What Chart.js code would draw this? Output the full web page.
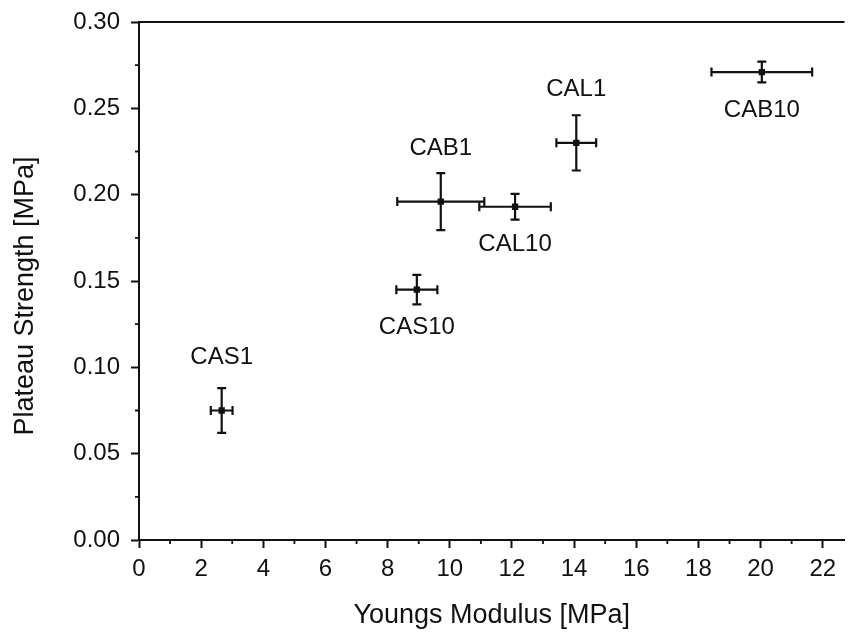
<!DOCTYPE html>
<html>
<head>
<meta charset="utf-8">
<script src="https://cdn.jsdelivr.net/npm/chart.js@4/dist/chart.umd.min.js"></script>
<style>
  html, body { margin: 0; padding: 0; background: #fff; }
  #wrap { width: 849px; height: 640px; position: relative; }
</style>
</head>
<body>
<div id="wrap"><canvas id="c" width="849" height="640"></canvas></div>
<script>
// ---- data ----
const sampleNames = ['CAS1', 'CAS10', 'CAB1', 'CAL10', 'CAL1', 'CAB10'];
const youngsModulus = [2.66, 8.94, 9.71, 12.1, 14.07, 20.04];
const youngsErr = [0.35, 0.66, 1.4, 1.15, 0.64, 1.62];
const plateauStrength = [0.075, 0.145, 0.196, 0.193, 0.230, 0.271];
const plateauErr = [0.013, 0.0085, 0.0165, 0.0075, 0.016, 0.006];
const labelSide = ['above', 'below', 'above', 'below', 'above', 'below'];
const xTickValues = [0, 2, 4, 6, 8, 10, 12, 14, 16, 18, 20, 22];
const xMinorValues = [1, 3, 5, 7, 9, 11, 13, 15, 17, 19, 21];
const yTickValues = [0.00, 0.05, 0.10, 0.15, 0.20, 0.25, 0.30];
const yMinorValues = [0.025, 0.075, 0.125, 0.175, 0.225, 0.275];

const INK = '#111';
const FONT = "'Liberation Sans', Arial, sans-serif";

const points = youngsModulus.map((x, i) => ({ x: x, y: plateauStrength[i] }));

const decorPlugin = {
  id: 'decor',
  afterDatasetsDraw(chart) {
    const ctx = chart.ctx;
    const xs = chart.scales.x, ys = chart.scales.y;
    const area = chart.chartArea;
    ctx.save();
    ctx.strokeStyle = INK;
    ctx.lineCap = 'butt';
    // error bars
    ctx.lineWidth = 2.2;
    const cap = 4.5;
    for (let i = 0; i < points.length; i++) {
      const px = xs.getPixelForValue(youngsModulus[i]);
      const py = ys.getPixelForValue(plateauStrength[i]);
      const xl = xs.getPixelForValue(youngsModulus[i] - youngsErr[i]);
      const xr = xs.getPixelForValue(youngsModulus[i] + youngsErr[i]);
      const yt = ys.getPixelForValue(plateauStrength[i] + plateauErr[i]);
      const yb = ys.getPixelForValue(plateauStrength[i] - plateauErr[i]);
      ctx.beginPath();
      ctx.moveTo(xl, py); ctx.lineTo(xr, py);
      ctx.moveTo(xl, py - cap); ctx.lineTo(xl, py + cap);
      ctx.moveTo(xr, py - cap); ctx.lineTo(xr, py + cap);
      ctx.moveTo(px, yt); ctx.lineTo(px, yb);
      ctx.moveTo(px - cap, yt); ctx.lineTo(px + cap, yt);
      ctx.moveTo(px - cap, yb); ctx.lineTo(px + cap, yb);
      ctx.stroke();
    }
    // labels
    ctx.fillStyle = INK;
    ctx.font = "24px " + FONT;
    ctx.textAlign = 'center';
    ctx.textBaseline = 'middle';
    for (let i = 0; i < points.length; i++) {
      const px = xs.getPixelForValue(youngsModulus[i]);
      const py = ys.getPixelForValue(plateauStrength[i]);
      const dy = labelSide[i] === 'above' ? -53 : 38;
      ctx.fillText(sampleNames[i], px, py + dy);
    }
    // top frame line
    ctx.lineWidth = 2;
    ctx.beginPath();
    ctx.moveTo(area.left, area.top);
    ctx.lineTo(area.right, area.top);
    ctx.stroke();
    // minor ticks
    ctx.lineWidth = 1.8;
    ctx.beginPath();
    xMinorValues.forEach(v => {
      const p = xs.getPixelForValue(v);
      ctx.moveTo(p, area.bottom); ctx.lineTo(p, area.bottom + 4);
    });
    yMinorValues.forEach(v => {
      const p = ys.getPixelForValue(v);
      ctx.moveTo(area.left, p); ctx.lineTo(area.left - 4, p);
    });
    ctx.stroke();
    ctx.restore();
  }
};

new Chart(document.getElementById('c'), {
  type: 'scatter',
  data: {
    datasets: [{
      data: points,
      pointStyle: 'rect',
      pointRadius: 4.5,
      pointHoverRadius: 4.5,
      backgroundColor: INK,
      borderColor: INK,
      borderWidth: 0
    }]
  },
  options: {
    responsive: false,
    animation: false,
    events: [],
    layout: { padding: { top: 22, right: 0, left: 0, bottom: 0 } },
    plugins: { legend: { display: false }, tooltip: { enabled: false } },
    scales: {
      x: {
        type: 'linear',
        min: 0,
        max: 22.7,
        afterBuildTicks: s => { s.ticks = xTickValues.map(v => ({ value: v })); },
        afterFit: s => { s.height = 100; s.paddingLeft = 0; s.paddingRight = 0; },
        border: { display: true, color: INK, width: 2 },
        grid: { display: true, drawOnChartArea: false, drawTicks: true, tickLength: 8, tickWidth: 2, tickColor: INK },
        ticks: {
          color: INK,
          padding: 7,
          maxRotation: 0,
          autoSkip: false,
          font: { family: FONT, size: 24 },
          callback: v => String(v)
        },
        title: {
          display: true,
          text: 'Youngs Modulus [MPa]',
          color: INK,
          font: { family: FONT, size: 27 },
          padding: { top: 0, bottom: 8 }
        }
      },
      y: {
        type: 'linear',
        min: 0,
        max: 0.30,
        afterBuildTicks: s => { s.ticks = yTickValues.map(v => ({ value: v })); },
        afterFit: s => { s.width = 139; s.paddingTop = 0; s.paddingBottom = 0; },
        border: { display: true, color: INK, width: 2 },
        grid: { display: true, drawOnChartArea: false, drawTicks: true, tickLength: 8, tickWidth: 2, tickColor: INK },
        ticks: {
          color: INK,
          padding: 11,
          autoSkip: false,
          font: { family: FONT, size: 24 },
          callback: v => v.toFixed(2)
        },
        title: {
          display: true,
          text: 'Plateau Strength [MPa]    ',
          color: INK,
          font: { family: FONT, size: 27 },
          padding: { top: 9, bottom: 0 }
        }
      }
    }
  },
  plugins: [decorPlugin]
});
</script>
</body>
</html>
